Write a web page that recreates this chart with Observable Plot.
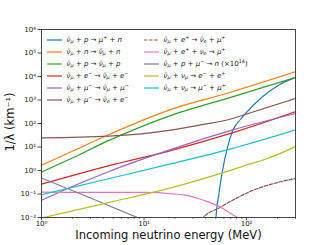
<!DOCTYPE html>
<html><head><meta charset="utf-8">
<script src="https://cdn.jsdelivr.net/npm/d3@7"></script>
<script src="https://cdn.jsdelivr.net/npm/@observablehq/plot@0.6"></script>
<style>
body{margin:0;background:#fff;}
#wrap{position:relative;width:327px;height:245px;overflow:hidden;}
#legend{position:absolute;left:0;top:0;width:327px;height:245px;pointer-events:none;font-family:"DejaVu Sans";font-size:7px;color:#222;}
#ylab{position:absolute;left:11px;top:122px;transform:translate(-50%,-50%) rotate(-90deg);font-family:"DejaVu Sans";font-size:11.5px;color:#111;white-space:nowrap;line-height:1;}
.item{position:absolute;display:flex;align-items:center;white-space:nowrap;height:12px;}
.item svg{flex:none;margin-right:5px;}
.item i{font-style:italic;}
.item sub,.item sup{font-size:70%;line-height:0;position:relative;vertical-align:baseline;}
.item sub{top:0.3em;}
.item sup{top:-0.5em;}
</style></head>
<body><div id="wrap"><div id="legend"></div><div id="ylab"></div></div>
<script>
// ---- data (energy in MeV, inverse mean free path in km^-1) ----
const energyBlue   = [49, 50.1, 53.7, 57.9, 64.9, 73.3, 87.1, 95.5, 141, 209, 300];
const valueBlue    = [0.001, 0.0079, 0.1, 0.85, 9.1, 50, 148, 240, 1318, 4470, 9120];
const energyOrange = [1, 2, 4.5, 19, 70, 300];
const valueOrange  = [1.66, 6.6, 33, 417, 2140, 15800];
const energyGreen  = [1, 2, 4.5, 19, 70, 300];
const valueGreen   = [0.85, 3.4, 18.6, 234, 1290, 9100];
const energyRed    = [1, 4.5, 19, 72.4, 300];
const valueRed     = [0.263, 1.58, 7.4, 39.8, 316];
const energyPurple = [1, 2, 4.5, 19, 72, 300];
const valuePurple  = [0.054, 0.21, 0.89, 8.3, 52.5, 263];
const energyBrown  = [1, 4.5, 19, 38, 70, 87, 300];
const valueBrown   = [24.3, 28.8, 53.7, 91, 155, 209, 1175];
const energyBrownDash = [35.5, 37, 56.2, 70.8, 110, 158, 214, 300];
const valueBrownDash  = [0.005, 0.0089, 0.028, 0.05, 0.132, 0.229, 0.331, 0.457];
const energyPink   = [1, 4.5, 10, 19, 25, 38, 55.7, 70, 87, 100];
const valuePink    = [0.12, 0.117, 0.117, 0.102, 0.089, 0.054, 0.0275, 0.0148, 0.0083, 0.005];
const energyGray   = [1, 3, 10];
const valueGray    = [0.48, 0.068, 0.0076];
const energyOlive  = [1, 4.5, 19, 58, 110, 158, 300];
const valueOlive   = [0.0095, 0.043, 0.19, 0.79, 1.95, 3.16, 10.5];
const energyCyan   = [1, 4.5, 19, 72, 300];
const valueCyan    = [0.093, 0.447, 2.0, 8.5, 52.5];

const xTicks = [1, 10, 100];
const xMinorTicks = [2,3,4,5,6,7,8,9,20,30,40,50,60,70,80,90,200,300];
const yTicks = [1e-2, 1e-1, 1, 10, 100, 1e3, 1e4, 1e5, 1e6];
const xLabel = "Incoming neutrino energy (MeV)";
const yLabel = "1/λ (km⁻¹)";

const NB = '<i>ν̄</i><sub><i>μ</i></sub>';
const seriesLabels = [
  `${NB} + <i>p</i> → <i>μ</i><sup>+</sup> + <i>n</i>`,
  `${NB} + <i>n</i> → ${NB} + <i>n</i>`,
  `${NB} + <i>p</i> → ${NB} + <i>p</i>`,
  `${NB} + <i>e</i><sup>−</sup> → ${NB} + <i>e</i><sup>−</sup>`,
  `${NB} + <i>μ</i><sup>−</sup> → ${NB} + <i>μ</i><sup>−</sup>`,
  `${NB} + <i>μ</i><sup>−</sup> → <i>ν̄</i><sub><i>e</i></sub> + <i>e</i><sup>−</sup>`,
  `${NB} + <i>e</i><sup>+</sup> → <i>ν̄</i><sub><i>e</i></sub> + <i>μ</i><sup>+</sup>`,
  `${NB} + <i>e</i><sup>+</sup> + <i>ν</i><sub><i>e</i></sub> → <i>μ</i><sup>+</sup>`,
  `${NB} + <i>p</i> + <i>μ</i><sup>−</sup> → <i>n</i> (×10<sup>14</sup>)`,
  `${NB} + <i>ν</i><sub><i>μ</i></sub> → <i>e</i><sup>−</sup> + <i>e</i><sup>+</sup>`,
  `${NB} + <i>ν</i><sub><i>μ</i></sub> → <i>μ</i><sup>−</sup> + <i>μ</i><sup>+</sup>`
];
const seriesColors = ["#1f77b4","#ff7f0e","#2ca02c","#d62728","#9467bd","#8c564b","#8c564b","#e377c2","#7f7f7f","#bcbd22","#17becf"];
const seriesDash = [null,null,null,null,null,null,"3.5,1.6",null,null,null,null];
const seriesEnergy = [energyBlue, energyOrange, energyGreen, energyRed, energyPurple, energyBrown, energyBrownDash, energyPink, energyGray, energyOlive, energyCyan];
const seriesValue  = [valueBlue, valueOrange, valueGreen, valueRed, valuePurple, valueBrown, valueBrownDash, valuePink, valueGray, valueOlive, valueCyan];

const supMap = {"0":"⁰","1":"¹","2":"²","3":"³","4":"⁴","5":"⁵","6":"⁶","7":"⁷","8":"⁸","9":"⁹","-":"⁻"};
const fmt = d => "10" + String(Math.round(Math.log10(d))).replace(/./g, c => supMap[c]);

const lineMarks = seriesEnergy.map((E, i) => Plot.line(E.map((e, j) => ({E: e, v: seriesValue[i][j]})), {
  x: "E", y: "v", stroke: seriesColors[i], strokeWidth: 1.2,
  strokeDasharray: seriesDash[i] || undefined, curve: "monotone-x", clip: true
}));

const chart = Plot.plot({
  width: 327, height: 245,
  marginLeft: 41, marginRight: 32, marginTop: 29, marginBottom: 28,
  style: {fontFamily: "DejaVu Sans", fontSize: "7px", color: "#222", background: "#fff"},
  x: {type: "log", domain: [1, 300], label: null},
  y: {type: "log", domain: [1e-2, 1e6], label: null},
  marks: [
    ...lineMarks,
    Plot.axisX({ticks: xMinorTicks, tickFormat: () => "", tickSize: 2, label: null, strokeWidth: 0.6}),
    Plot.axisX({ticks: xTicks, tickFormat: fmt, tickSize: 3, tickPadding: 0.5, label: null, strokeWidth: 0.8}),
    Plot.axisY({ticks: yTicks, tickFormat: fmt, tickSize: 3.5, tickPadding: 2, label: null, strokeWidth: 0.8}),
    Plot.frame({stroke: "#333", strokeWidth: 0.9}),
    Plot.text([xLabel], {frameAnchor: "bottom", dy: 21.5, fontSize: 11.5, fill: "#111"})
  ]
});
const wrap = document.getElementById("wrap");
wrap.insertBefore(chart, wrap.firstChild);
document.getElementById("ylab").textContent = yLabel;

// legend (two columns, inside the axes)
const legend = document.getElementById("legend");
seriesLabels.forEach((lab, i) => {
  const col = i < 6 ? 0 : 1;
  const row = i < 6 ? i : i - 6;
  const left = col === 0 ? 46.5 : 143.5;
  const cy = 39.5 + row * 12;
  const div = document.createElement("div");
  div.className = "item";
  div.style.left = left + "px";
  div.style.top = (cy - 6) + "px";
  const dash = seriesDash[i] ? `stroke-dasharray="${seriesDash[i]}"` : "";
  div.innerHTML = `<svg width="15" height="4"><line x1="0" y1="2" x2="15" y2="2" stroke="${seriesColors[i]}" stroke-width="1.2" ${dash}/></svg><span>${lab}</span>`;
  legend.appendChild(div);
});
</script></body></html>
